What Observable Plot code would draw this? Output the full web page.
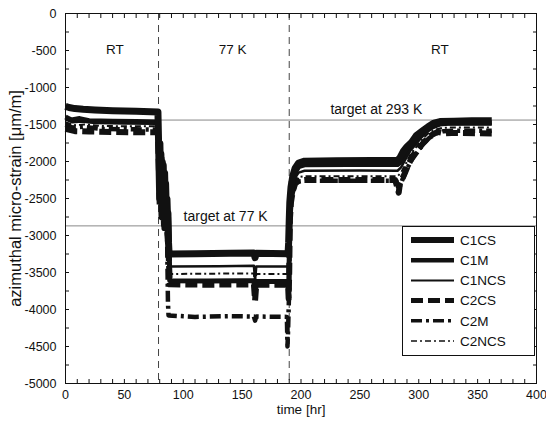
<!DOCTYPE html>
<html>
<head>
<meta charset="utf-8">
<script src="https://cdn.jsdelivr.net/npm/d3@7"></script>
<script src="https://cdn.jsdelivr.net/npm/@observablehq/plot@0.6"></script>
<style>
  body { margin: 0; background: #fff; }
  #wrap { position: relative; width: 546px; height: 422px; font-family: "Liberation Sans", Arial, sans-serif; }
  #legend { position: absolute; left: 402px; top: 226px; }
</style>
</head>
<body>
<div id="wrap"></div>
<script>
// ---- data (time [hr], azimuthal micro-strain [µm/m]) ----
const seriesNames = ["C1CS", "C1M", "C1NCS", "C2CS", "C2M", "C2NCS"];

const C1CS = [
  [0,-1255],[3,-1270],[8,-1285],[15,-1295],[25,-1305],[40,-1315],[60,-1322],[78.5,-1330],
  [79,-1700],[80,-2500],[81,-1900],[82,-2750],[83,-2050],[84,-2850],[85,-2300],[86,-2900],[87,-2700],[87.5,-3100],[88,-3250],
  [110,-3245],[140,-3240],[160,-3235],[161,-3300],[162,-3240],[189,-3245],
  [189.5,-3100],[190,-2800],[190.5,-2550],[191.5,-2350],[193,-2200],[195,-2090],[198,-2020],[203,-1995],[230,-1990],[260,-1985],[282,-1985],
  [284,-1950],[287,-1860],[290,-1800],[294,-1740],[298,-1650],[303,-1590],[308,-1530],[313,-1480],[318,-1460],[330,-1455],[345,-1450],[362,-1450]
];
const C1M = [
  [0,-1400],[5,-1440],[12,-1420],[20,-1450],[40,-1455],[60,-1460],[78.5,-1465],
  [79,-1800],[80,-2300],[81,-1750],[82,-2600],[83,-2000],[84,-2750],[85,-2150],[86,-2800],[87,-2500],[88,-3000],[88.5,-3610],
  [120,-3615],[150,-3610],[160,-3610],[161,-3820],[162,-3620],[189,-3620],[189.5,-3750],
  [190,-3300],[190.5,-2700],[191.5,-2450],[193,-2270],[195,-2150],[198,-2070],[203,-2045],[240,-2040],[282,-2040],
  [285,-2000],[289,-1900],[293,-1800],[297,-1720],[301,-1650],[306,-1580],[311,-1530],[317,-1490],[323,-1480],[340,-1478],[362,-1478]
];
const C1NCS = [
  [0,-1430],[6,-1470],[14,-1460],[25,-1480],[50,-1485],[78.5,-1490],
  [79,-1750],[80,-2450],[81,-1850],[82,-2650],[83,-1950],[84,-2700],[85,-2200],[86,-2750],[87.5,-2900],[88.5,-3420],
  [130,-3415],[160,-3410],[161,-3600],[162,-3420],[189,-3420],
  [190,-3200],[190.5,-2650],[191.5,-2500],[193,-2330],[195,-2220],[198,-2150],[203,-2125],[250,-2120],[282,-2125],
  [285,-2080],[289,-1960],[293,-1850],[298,-1760],[302,-1680],[307,-1600],[312,-1550],[318,-1510],[325,-1500],[362,-1500]
];
const C2CS = [
  [0,-1560],[8,-1590],[20,-1595],[40,-1600],[60,-1605],[78.5,-1605],
  [79,-1900],[80,-2600],[81,-2000],[82,-2800],[83,-2100],[84,-2900],[85,-2400],[86,-2850],[87.5,-3200],[88.5,-3660],
  [120,-3665],[160,-3660],[161,-3880],[162,-3665],[189,-3665],[189.5,-3850],
  [190,-3500],[190.5,-2800],[191.5,-2550],[193,-2400],[195,-2300],[198,-2260],[203,-2250],[250,-2250],[280,-2250],[283,-2420],[284,-2300],
  [287,-2200],[291,-2050],[295,-1920],[300,-1820],[305,-1730],[310,-1650],[316,-1600],[322,-1620],[328,-1615],[362,-1620]
];
const C2M = [
  [0,-1500],[6,-1540],[15,-1530],[30,-1560],[60,-1565],[78.5,-1570],
  [79,-1850],[80,-2550],[81,-1950],[82,-2700],[83,-2050],[84,-2800],[85,-2350],[86,-2600],[86.5,-3300],[87,-3900],[87.5,-4080],
  [110,-4100],[140,-4090],[160,-4095],[161,-4150],[162,-4095],[188,-4100],[188.5,-4500],[189,-4300],
  [190,-3700],[190.5,-2900],[191.5,-2600],[193,-2420],[195,-2320],[198,-2270],[203,-2260],[250,-2260],[281,-2260],[283,-2380],
  [286,-2250],[290,-2100],[294,-1980],[299,-1870],[304,-1760],[309,-1680],[315,-1620],[321,-1590],[330,-1585],[362,-1585]
];
const C2NCS = [
  [0,-1470],[7,-1510],[16,-1500],[30,-1520],[60,-1525],[78.5,-1525],
  [79,-1800],[80,-2400],[81,-1800],[82,-2700],[83,-2000],[84,-2650],[85,-2250],[86,-2800],[87.5,-3000],[88.5,-3520],
  [130,-3515],[160,-3515],[161,-3700],[162,-3520],[189,-3520],
  [190,-3300],[190.5,-2700],[191.5,-2520],[193,-2350],[195,-2240],[198,-2210],[203,-2200],[282,-2200],
  [285,-2150],[289,-2030],[293,-1900],[298,-1800],[303,-1700],[308,-1620],[314,-1570],[320,-1545],[330,-1540],[362,-1540]
];

const phaseBoundaries = [79, 190];
const targetValues = [-1440, -2870];
const targetLabels = ["target at 293 K", "target at 77 K"];
const targetLabelX = [264, 136];
const targetLabelY = [-1300, -2750];
const phaseLabels = ["RT", "77 K", "RT"];
const phaseLabelX = [42, 142, 318];
const phaseLabelY = [-485, -485, -485];
const xMajorTicks = [0, 50, 100, 150, 200, 250, 300, 350, 400];
const xMinorTicks = d3.range(0, 401, 10);
const yMajorTicks = [0, -500, -1000, -1500, -2000, -2500, -3000, -3500, -4000, -4500, -5000];
const yMinorTicks = d3.range(-5000, 1, 250);

// ---- styles ----
const styles = {
  C1CS:  {strokeWidth: 7,   dash: null},
  C1M:   {strokeWidth: 5,   dash: null},
  C1NCS: {strokeWidth: 2.5, dash: null},
  C2CS:  {strokeWidth: 6,   dash: "12,5"},
  C2M:   {strokeWidth: 4.5, dash: "11,4,3,4"},
  C2NCS: {strokeWidth: 2,   dash: "6,3,2,3"}
};
const legendWidths = {C1CS: 6, C1M: 4.5, C1NCS: 2, C2CS: 5, C2M: 3.5, C2NCS: 1.6};
const seriesData = {C1CS, C1M, C1NCS, C2CS, C2M, C2NCS};

const lineMarks = seriesNames.slice().reverse().map(name =>
  Plot.line(seriesData[name].map(([t, v]) => ({t, v})), {
    x: "t", y: "v", stroke: "#111",
    strokeWidth: styles[name].strokeWidth,
    strokeDasharray: styles[name].dash,
    strokeLinejoin: "round", strokeLinecap: "butt",
    curve: "linear"
  })
);

const targets = targetValues.map((v, i) => ({v, label: targetLabels[i], x: targetLabelX[i], y: targetLabelY[i]}));
const phases = phaseLabels.map((l, i) => ({l, x: phaseLabelX[i], y: phaseLabelY[i]}));

const chart = Plot.plot({
  width: 546, height: 422,
  marginLeft: 65, marginRight: 10, marginTop: 13, marginBottom: 39,
  style: {fontFamily: '"Liberation Sans", Arial, sans-serif', fontSize: "12.5px", background: "#fff", color: "#111"},
  x: {domain: [0, 400]},
  y: {domain: [-5000, 0]},
  marks: [
    Plot.ruleY(targets, {y: "v", stroke: "#888", strokeWidth: 1}),
    Plot.ruleX(phaseBoundaries, {stroke: "#444", strokeWidth: 1, strokeDasharray: "7,5"}),
    ...lineMarks,
    Plot.text(targets, {x: "x", y: "y", text: "label", fontSize: 14, fill: "#111"}),
    Plot.text(phases, {x: "x", y: "y", text: "l", fontSize: 13.5, fill: "#111"}),
    // axes: labels
    Plot.axisX({anchor: "bottom", ticks: xMajorTicks, tickSize: 0, tickPadding: 7, label: null, fontSize: 12.5, tickFormat: d => String(d)}),
    Plot.axisY({anchor: "left", ticks: yMajorTicks, tickSize: 0, tickPadding: 9, label: null, fontSize: 12.5, tickFormat: d => String(d)}),
    // inward tick marks on all four sides
    Plot.axisX({anchor: "bottom", ticks: xMinorTicks, tickSize: -4, text: null, label: null}),
    Plot.axisX({anchor: "top", ticks: xMinorTicks, tickSize: -4, text: null, label: null}),
    Plot.axisY({anchor: "left", ticks: yMinorTicks, tickSize: -4, text: null, label: null}),
    Plot.axisY({anchor: "right", ticks: yMinorTicks, tickSize: -4, text: null, label: null}),
    Plot.frame({stroke: "#111", strokeWidth: 1}),
    Plot.text(["time [hr]"], {frameAnchor: "bottom", dy: 30, fontSize: 13.5, fill: "#111"}),
    Plot.text(["azimuthal micro-strain [μm/m]"], {frameAnchor: "left", dx: -50, rotate: -90, textAnchor: "middle", lineAnchor: "middle", fontSize: 16.5, fill: "#111"})
  ]
});

const wrap = document.getElementById("wrap");
wrap.appendChild(chart);

// ---- legend (inside plot area, lower right) ----
const lg = d3.select(wrap).append("svg")
  .attr("id", "legend")
  .attr("width", 133).attr("height", 130);
lg.append("rect").attr("x", 0.5).attr("y", 0.5).attr("width", 132).attr("height", 129)
  .attr("fill", "#fff").attr("stroke", "#111").attr("stroke-width", 1);
seriesNames.forEach((name, i) => {
  const y = 14 + i * 20.2;
  lg.append("line").attr("x1", 9).attr("x2", 52).attr("y1", y).attr("y2", y)
    .attr("stroke", "#111").attr("stroke-width", legendWidths[name])
    .attr("stroke-dasharray", styles[name].dash);
  lg.append("text").attr("x", 58).attr("y", y).attr("dy", "0.35em")
    .attr("font-family", '"Liberation Sans", Arial, sans-serif').attr("font-size", 13.5)
    .attr("fill", "#111").text(name);
});
</script>
</body>
</html>
